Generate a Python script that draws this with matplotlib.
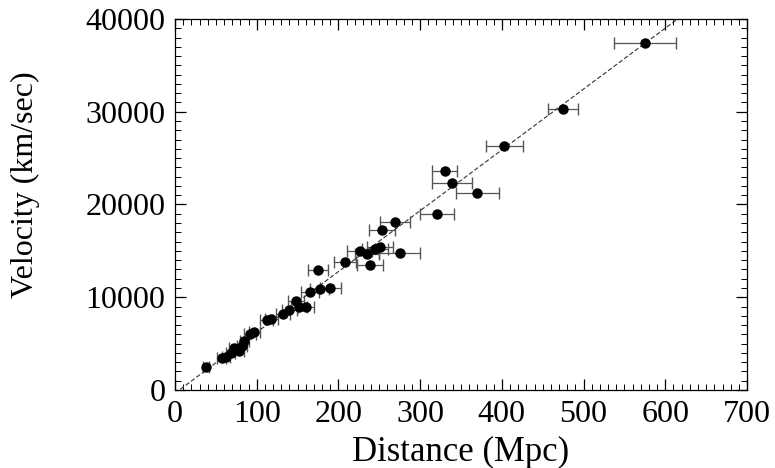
import matplotlib
matplotlib.use("Agg")
import matplotlib.pyplot as plt
from matplotlib.ticker import MultipleLocator
import numpy as np

plt.rcParams['font.family'] = ['Liberation Serif', 'DejaVu Serif']

# distance (Mpc), velocity (km/s), distance error (Mpc)
distance = [38, 57, 62, 68, 72, 78, 82, 85, 92, 97, 112, 118, 132, 140, 148,
            152, 160, 165, 177, 190, 175, 208, 226, 235, 239, 245, 251, 275,
            253, 269, 321, 330, 339, 370, 403, 475, 575]
velocity = [2500, 3400, 3600, 4000, 4500, 4200, 4700, 5300, 6000, 6300, 7500,
            7700, 8200, 8600, 9600, 9000, 8900, 10600, 10900, 11000, 12900,
            13800, 15000, 14700, 13500, 15200, 15400, 14800, 17300, 18100,
            19000, 23600, 22300, 21200, 26300, 30300, 37400]
dist_err = [4, 5, 5, 5, 6, 6, 6, 6, 7, 7, 8, 8, 9, 9, 10, 10, 10, 11, 12, 13,
            12, 14, 15, 15, 16, 16, 16, 25, 16, 18, 21, 15, 25, 26, 23, 18, 38]

# linear fit v = H0 * d + b
H0 = 65.6
b = -350
fit_d = [0, 700]

fig = plt.figure(figsize=(7.75, 4.68), dpi=100)
ax = fig.add_axes([0.2258, 0.1667, 0.7381, 0.7927])

ax.errorbar(distance, velocity, xerr=dist_err, fmt='o', color='black',
            markersize=6.5, elinewidth=0.9, capsize=4.5, capthick=1.0,
            ecolor='#555555')
fd = np.array(fit_d)
ax.plot(fd, H0 * fd + b, color='#333333', lw=0.8, dashes=(4, 2))

ax.set_xlim(0, 700)
ax.set_ylim(0, 40000)
ax.xaxis.set_major_locator(MultipleLocator(100))
ax.xaxis.set_minor_locator(MultipleLocator(10))
ax.yaxis.set_major_locator(MultipleLocator(10000))
ax.yaxis.set_minor_locator(MultipleLocator(1000))
ax.tick_params(which='both', direction='in', top=True, right=True,
               labelsize=23, pad=7)
ax.tick_params(which='major', length=8, width=0.9)
ax.tick_params(which='minor', length=4, width=0.7)
for s in ax.spines.values():
    s.set_linewidth(0.9)

ax.set_xlabel('Distance (Mpc)', fontsize=25)
ax.set_ylabel('Velocity (km/sec)', fontsize=23)
ax.xaxis.set_label_coords(0.5, -0.125)
ax.yaxis.set_label_coords(-0.236, 0.553)

fig.savefig('out.png', dpi=100)
